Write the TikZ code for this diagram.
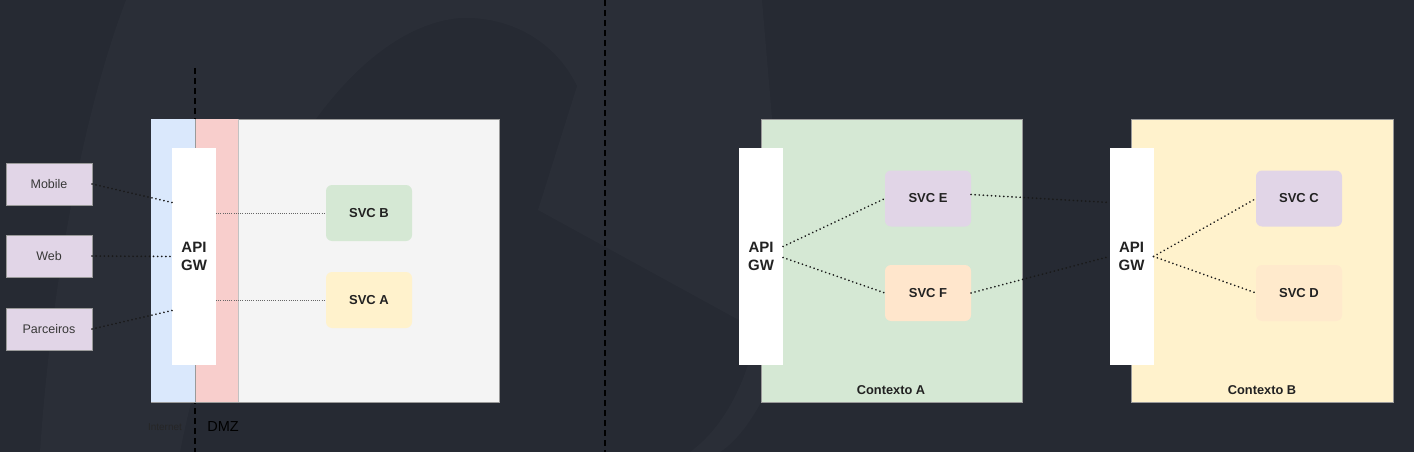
\documentclass[tikz,border=0pt]{standalone}
\usepackage{fontspec}
\setmainfont{Liberation Sans}
\definecolor{bgdark}{HTML}{262A33}
\definecolor{bglight}{HTML}{2A2E37}
\definecolor{cpurple}{HTML}{E1D5E7}
\definecolor{cgreen}{HTML}{D5E8D4}
\definecolor{cyellow}{HTML}{FFF2CC}
\definecolor{corange}{HTML}{FFE6CC}
\definecolor{cblue}{HTML}{DAE8FC}
\definecolor{cred}{HTML}{F8CECC}
\definecolor{cgray}{HTML}{F4F4F4}
\definecolor{cborder}{HTML}{9A9A9A}
\definecolor{ctext}{HTML}{222222}
\begin{document}
\begin{tikzpicture}[x=1pt,y=-1pt,
  every node/.style={inner sep=0pt, outer sep=0pt},
  area/.style={draw=cborder, line width=0.8pt, anchor=north west},
  gw/.style={fill=white, minimum width=44pt, minimum height=217pt, align=center,
    font=\bfseries\fontsize{15}{18}\selectfont, text=ctext},
  client/.style={fill=cpurple, draw=cborder, line width=0.8pt, minimum width=86pt,
    minimum height=42pt, font=\fontsize{12.5}{14}\selectfont, text=ctext!90},
  svc/.style={rounded corners=6pt, minimum width=86pt, minimum height=56pt,
    font=\bfseries\fontsize{13}{15}\selectfont, text=ctext},
  link/.style={dash pattern=on 0.1pt off 4pt, line cap=round, line width=1.8pt, draw=black!90},
  thinlink/.style={dash pattern=on 1pt off 1.2pt, line width=0.8pt, draw=black!60},
  zone/.style={dash pattern=on 6pt off 4pt, line width=1.6pt, draw=black},
  ctxlabel/.style={font=\bfseries\fontsize{12.8}{15}\selectfont, text=ctext}
]
\useasboundingbox (0,0) rectangle (1414,452);
\fill[bgdark] (0,0) rectangle (1414,452);
% faint watermark
\fill[bglight, even odd rule]
  (126,0) -- (762,0) -- (790,330) .. controls (770,400) and (740,440) .. (720,452)
  -- (40,452) .. controls (50,300) and (80,120) .. (126,0)
  (180,452) .. controls (220,250) and (330,30) .. (460,18)
  .. controls (520,16) and (560,50) .. (577,86) -- (538,210) -- (757,330)
  .. controls (745,390) and (720,430) .. (690,452) -- cycle;

% zone separators
\draw[zone] (605,0) -- (605,452);
\draw[zone] (195,68) -- (195,452);

% left composite box
\node[area, fill=cgray, minimum width=348pt, minimum height=283pt] (lbox) at (151,119) {};
\fill[cblue] (151.4,119.4) rectangle (195,401.6);
\fill[cred] (195,119.4) rectangle (238,401.6);
\draw[cborder, line width=0.6pt] (195,119.4) -- (195,401.6);
\draw[cborder!60, line width=0.4pt] (238,119.4) -- (238,401.6);

\node[gw] (gwL) at (194,256.5) {API\\GW};
\node[client] (mob) at (49,184) {Mobile};
\node[client] (web) at (49,256) {Web};
\node[client] (par) at (49,329) {Parceiros};
\node[svc, fill=cgreen] (svcB) at (369,213) {SVC B};
\node[svc, fill=cyellow] (svcA) at (369,300) {SVC A};

\draw[link] (mob.east) -- ([yshift=54pt]gwL.west);
\draw[link] (web.east) -- (gwL.west);
\draw[link] (par.east) -- ([yshift=-54pt]gwL.west);
\draw[thinlink] ([yshift=43.5pt]gwL.east) -- (svcB.west);
\draw[thinlink] ([yshift=-43.5pt]gwL.east) -- (svcA.west);

\node[font=\fontsize{10}{12}\selectfont, text=black!85] (inet) at (165,427) {Internet};
\node[font=\fontsize{14.5}{16}\selectfont, text=black] (dmz) at (223,427) {DMZ};

% Contexto A
\node[area, fill=cgreen, minimum width=261pt, minimum height=283pt] (ctxA) at (761,119) {};
\node[ctxlabel] (ctxAl) at (891,390) {Contexto A};
\node[gw] (gwA) at (761,256.5) {API\\GW};
\node[svc, fill=cpurple] (svcE) at (928,198.5) {SVC E};
\node[svc, fill=corange] (svcF) at (928,293) {SVC F};

% Contexto B
\node[area, fill=cyellow, minimum width=262pt, minimum height=283pt] (ctxB) at (1131,119) {};
\node[ctxlabel] (ctxBl) at (1262,390) {Contexto B};
\node[gw] (gwB) at (1131.5,256.5) {API\\GW};
\node[svc, fill=cpurple] (svcC) at (1299,198.5) {SVC C};
\node[svc, fill=corange!70!cyellow] (svcD) at (1299,293) {SVC D};

\draw[link] ([yshift=10pt]gwA.east) -- (svcE.west);
\draw[link] ([yshift=-1pt]gwA.east) -- (svcF.west);
\draw[link] ([yshift=4pt]svcE.east) -- ([yshift=54pt]gwB.west);
\draw[link] (svcF.east) -- (gwB.west);
\draw[link] (gwB.east) -- (svcC.west);
\draw[link] (gwB.east) -- (svcD.west);
\end{tikzpicture}
\end{document}
